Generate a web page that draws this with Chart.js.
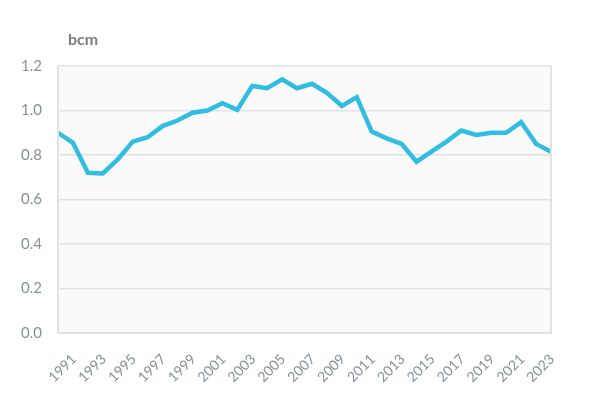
<!DOCTYPE html>
<html>
<head>
<meta charset="utf-8">
<script src="https://cdn.jsdelivr.net/npm/chart.js@4"></script>
<style>
html,body{margin:0;padding:0;background:#fff;}
#wrap{width:593px;height:393px;position:relative;}
</style>
</head>
<body>
<div id="wrap"><canvas id="c" width="593" height="393"></canvas></div>
<script>
const years = ['1991','1992','1993','1994','1995','1996','1997','1998','1999','2000','2001','2002','2003','2004','2005','2006','2007','2008','2009','2010','2011','2012','2013','2014','2015','2016','2017','2018','2019','2020','2021','2022','2023','2024'];
const values = [0.90,0.855,0.72,0.717,0.78,0.86,0.88,0.93,0.955,0.99,1.00,1.033,1.003,1.11,1.10,1.14,1.10,1.12,1.08,1.02,1.06,0.905,0.875,0.85,0.77,0.815,0.86,0.91,0.89,0.90,0.90,0.948,0.85,0.815];
const yTicks = [0.0,0.2,0.4,0.6,0.8,1.0,1.2];
const unitLabel = 'bcm';

const plotBg = {
  id: 'plotBg',
  beforeDraw(chart) {
    const {ctx, chartArea: a} = chart;
    ctx.save();
    ctx.fillStyle = '#fafafa';
    ctx.fillRect(a.left, a.top, a.right - a.left, a.bottom - a.top);
    ctx.restore();
  },
  afterDatasetsDraw(chart) {
    const {ctx, chartArea: a} = chart;
    ctx.save();
    ctx.strokeStyle = '#dde3e6';
    ctx.lineWidth = 2;
    ctx.beginPath();
    ctx.moveTo(a.left, a.top);
    ctx.lineTo(a.left, a.bottom);
    ctx.lineTo(a.right, a.bottom);
    ctx.lineTo(a.right, a.top);
    ctx.stroke();
    ctx.restore();
  },
  afterDraw(chart) {
    const {ctx} = chart;
    ctx.save();
    ctx.fillStyle = '#7b7b7b';
    ctx.font = 'bold 16px Lato';
    ctx.textBaseline = 'middle';
    ctx.fillText(unitLabel, 68, 40);
    ctx.restore();
  }
};

new Chart(document.getElementById('c'), {
  type: 'line',
  data: {
    labels: years,
    datasets: [{
      data: values,
      borderColor: '#31bde1',
      borderWidth: 4.5,
      pointRadius: 0,
      tension: 0,
      fill: false,
      borderJoinStyle: 'miter'
    }]
  },
  options: {
    responsive: false,
    animation: false,
    devicePixelRatio: 1,
    layout: { padding: { top: 66, right: 42, left: 0, bottom: 0 } },
    plugins: { legend: { display: false }, tooltip: { enabled: false } },
    scales: {
      x: {
        offset: false,
        grid: { display: false, drawTicks: false },
        border: { display: false },
        ticks: {
          autoSkip: false,
          maxRotation: 45,
          minRotation: 45,
          labelOffset: 16,
          padding: 18,
          color: '#849195',
          font: { family: 'Lato', size: 14 },
          callback: function(v, i) { return i % 2 === 0 ? years[i] : ''; }
        },
        afterFit(s) { s.height = 60; s.paddingLeft = 0; s.paddingRight = 0; }
      },
      y: {
        min: 0, max: 1.2,
        afterBuildTicks(s) { s.ticks = yTicks.map(v => ({value: v})); },
        grid: { color: '#dde3e6', lineWidth: 1.5, drawTicks: false },
        border: { display: false },
        ticks: {
          padding: 16,
          color: '#849195',
          font: { family: 'Lato', size: 15 },
          callback: v => Number(v).toFixed(1)
        },
        afterFit(s) { s.width = 58; s.paddingTop = 0; s.paddingBottom = 0; }
      }
    }
  },
  plugins: [plotBg]
});
</script>
</body>
</html>
